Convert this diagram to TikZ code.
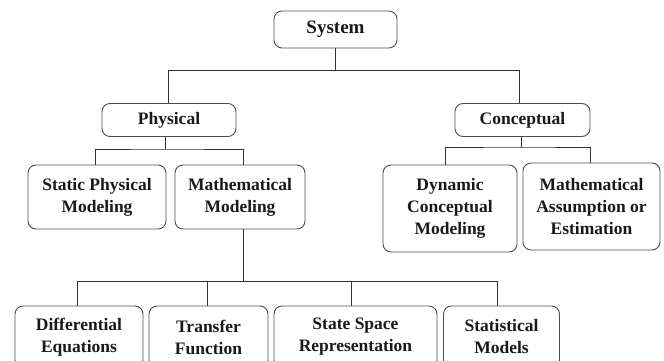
\documentclass[tikz,border=0pt]{standalone}
\usepackage{fontspec}
\setmainfont{Liberation Serif}
\begin{document}
\begin{tikzpicture}[x=1pt,y=-1pt,
  box/.style={draw=black!70, line width=0.9pt, rounded corners=8pt, align=center,
    font=\fontsize{17.5}{22}\selectfont\bfseries, inner sep=0pt, text=black!90},
  conn/.style={draw=black!80, line width=0.9pt}]
\useasboundingbox (0,0) rectangle (664,361);
\clip (0,0) rectangle (664,361);
% level 0
\node[box, minimum width=123pt, minimum height=37pt, font=\fontsize{19}{22}\selectfont\bfseries] (sys) at (335.5,29.5) {System};
% level 1
\node[box, minimum width=134pt, minimum height=33pt] (phys) at (169,120) {Physical};
\node[box, minimum width=135pt, minimum height=33pt] (con) at (522.5,120) {Conceptual};
% level 2
\node[box, minimum width=138pt, minimum height=64pt] (stat) at (97,197) {Static Physical\\Modeling};
\node[box, minimum width=130pt, minimum height=64pt] (mm) at (240,197) {Mathematical\\Modeling};
\node[box, minimum width=134pt, minimum height=87pt] (dyn) at (450,208.5) {Dynamic\\Conceptual\\Modeling};
\node[box, minimum width=137pt, minimum height=87pt] (ma) at (591.5,206.5) {Mathematical\\Assumption or\\Estimation};
% level 3
\node[box, minimum width=128pt, minimum height=62pt] (diff) at (79,337) {Differential\\Equations};
\node[box, minimum width=119pt, minimum height=62pt] (tf) at (208.5,337) {Transfer\\Function};
\node[box, minimum width=163pt, minimum height=62pt] (ss) at (355.5,337) {State Space\\Representation};
\node[box, minimum width=116pt, minimum height=62pt] (sm) at (501.5,337) {Statistical\\Models};
% bracket levels
\coordinate (b1) at (336,70.5);
\coordinate (b2) at (165,149);
\coordinate (b3) at (521,147);
\coordinate (b4) at (243,281.5);
% connectors
\draw[conn] (sys.south) -- (sys.south |- b1);
\draw[conn] ([xshift=-1pt]phys.north) |- (b1) -| ([xshift=-3.5pt]con.north);
\draw[conn] (b2 |- phys.south) -- (b2);
\draw[conn] ([xshift=-2pt]stat.north) |- (b2) -| ([xshift=3pt]mm.north);
\draw[conn] (b3 |- con.south) -- (b3);
\draw[conn] ([xshift=-5pt]dyn.north) |- (b3) -| ([xshift=-1.5pt]ma.north);
\draw[conn] (b4 |- mm.south) -- (b4);
\draw[conn] ([xshift=-1.5pt]diff.north) |- (b4) -| ([xshift=-4.5pt]sm.north);
\draw[conn] ([xshift=-1pt]tf.north) -- ([xshift=-1pt]tf.north |- b4);
\draw[conn] ([xshift=-4.5pt]ss.north) -- ([xshift=-4.5pt]ss.north |- b4);
\end{tikzpicture}
\end{document}
